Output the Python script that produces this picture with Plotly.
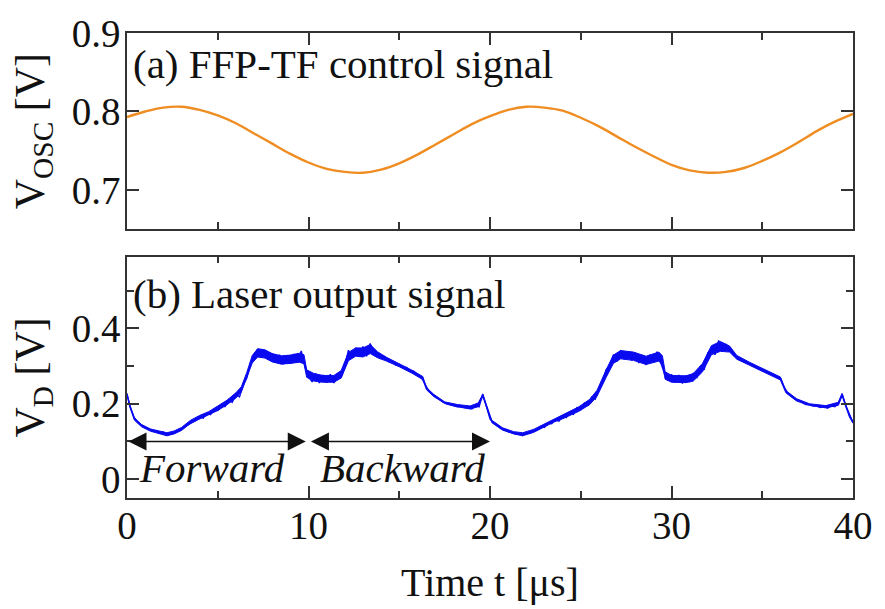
import plotly.graph_objects as go

# ---- data ----
t_osc = list(range(0, 41))
v_osc = [0.793, 0.800, 0.805, 0.806, 0.802, 0.795, 0.785, 0.772, 0.759, 0.746,
         0.735, 0.727, 0.723, 0.722, 0.726, 0.734, 0.745, 0.758, 0.771, 0.784,
         0.794, 0.802, 0.806, 0.805, 0.801, 0.792, 0.781, 0.768, 0.755, 0.743,
         0.732, 0.725, 0.722, 0.723, 0.728, 0.737, 0.748, 0.761, 0.775, 0.787,
         0.797]

# detector trace: band centre and noise half-width read at key points
t_band = [0.0, 0.15, 0.4, 0.8, 1.3, 1.8, 2.2, 2.6, 3.0, 3.5, 4.0, 4.5, 5.0, 5.5, 6.0,
          6.3, 6.6, 6.9, 7.2, 7.6, 8.0, 8.5, 9.0, 9.5, 9.75, 9.9, 10.3, 10.8, 11.4,
          11.8, 12.2, 12.6, 13.0, 13.4, 13.8, 14.3, 15.0, 15.7, 16.3, 16.5, 16.9,
          17.5, 18.2, 18.9, 19.35, 19.6, 19.8, 20.1, 20.7, 21.3, 21.8, 22.4, 22.9,
          23.5, 24.0, 24.9, 25.5, 25.9, 26.4, 26.8, 27.2, 27.9, 28.6, 29.3, 29.5,
          29.65, 30.0, 30.8, 31.2, 31.7, 32.2, 32.7, 33.2, 33.6, 34.3, 35.0, 35.6,
          36.0, 36.3, 36.9, 37.6, 38.5, 39.2, 39.4, 39.6, 39.8, 40.0]
v_band = [0.225, 0.195, 0.160, 0.142, 0.130, 0.124, 0.119, 0.124, 0.133, 0.152,
          0.164, 0.174, 0.188, 0.203, 0.222, 0.238, 0.275, 0.318, 0.335, 0.332,
          0.322, 0.316, 0.318, 0.322, 0.318, 0.280, 0.270, 0.266, 0.266, 0.278,
          0.325, 0.337, 0.336, 0.345, 0.330, 0.318, 0.302, 0.285, 0.268, 0.240,
          0.222, 0.203, 0.195, 0.190, 0.197, 0.222, 0.195, 0.153, 0.133, 0.123,
          0.119, 0.128, 0.140, 0.155, 0.165, 0.186, 0.205, 0.228, 0.280, 0.318,
          0.330, 0.326, 0.315, 0.325, 0.315, 0.275, 0.266, 0.265, 0.270, 0.295,
          0.342, 0.352, 0.345, 0.323, 0.306, 0.290, 0.277, 0.267, 0.232, 0.210,
          0.198, 0.192, 0.200, 0.224, 0.195, 0.168, 0.150]
n_band = [0.003, 0.003, 0.003, 0.003, 0.003, 0.004, 0.004, 0.004, 0.004, 0.004,
          0.005, 0.005, 0.006, 0.006, 0.007, 0.007, 0.008, 0.010, 0.011, 0.011,
          0.011, 0.011, 0.011, 0.012, 0.012, 0.010, 0.010, 0.009, 0.009, 0.010,
          0.011, 0.011, 0.012, 0.012, 0.008, 0.005, 0.004, 0.004, 0.004, 0.003,
          0.003, 0.002, 0.003, 0.004, 0.005, 0.003, 0.003, 0.003, 0.003, 0.003,
          0.004, 0.004, 0.004, 0.004, 0.005, 0.006, 0.007, 0.008, 0.010, 0.011,
          0.011, 0.011, 0.011, 0.012, 0.012, 0.010, 0.009, 0.009, 0.010, 0.011,
          0.012, 0.013, 0.008, 0.005, 0.004, 0.004, 0.004, 0.004, 0.003, 0.003,
          0.002, 0.003, 0.004, 0.003, 0.003, 0.003, 0.002]

# noise excursions of the same trace, read every 0.2 us
t_d = [i / 5 for i in range(201)]
v_d = [0.225, 0.188, 0.163, 0.150, 0.143, 0.136, 0.133, 0.128, 0.128, 0.122,
       0.125, 0.117, 0.122, 0.123, 0.128, 0.131, 0.140, 0.146, 0.152, 0.156,
       0.166, 0.162, 0.175, 0.171, 0.184, 0.182, 0.196, 0.192, 0.208, 0.204,
       0.225, 0.218, 0.250, 0.268, 0.305, 0.325, 0.345, 0.322, 0.342, 0.318,
       0.333, 0.310, 0.330, 0.305, 0.328, 0.306, 0.332, 0.309, 0.340, 0.300,
       0.272, 0.258, 0.280, 0.255, 0.276, 0.256, 0.278, 0.255, 0.275, 0.270,
       0.300, 0.342, 0.322, 0.348, 0.330, 0.352, 0.326, 0.360, 0.335, 0.332,
       0.320, 0.325, 0.312, 0.314, 0.303, 0.305, 0.296, 0.296, 0.287, 0.286,
       0.276, 0.272, 0.255, 0.236, 0.226, 0.218, 0.213, 0.205, 0.200, 0.197,
       0.196, 0.192, 0.193, 0.190, 0.190, 0.186, 0.196, 0.192, 0.226, 0.196,
       0.160, 0.148, 0.142, 0.134, 0.131, 0.126, 0.124, 0.120, 0.121, 0.116,
       0.124, 0.122, 0.130, 0.130, 0.140, 0.137, 0.149, 0.147, 0.158, 0.154,
       0.168, 0.163, 0.177, 0.172, 0.190, 0.184, 0.202, 0.196, 0.218, 0.212,
       0.240, 0.256, 0.290, 0.300, 0.330, 0.312, 0.342, 0.318, 0.338, 0.315,
       0.335, 0.308, 0.328, 0.303, 0.330, 0.310, 0.338, 0.312, 0.282, 0.262,
       0.278, 0.256, 0.276, 0.254, 0.275, 0.258, 0.280, 0.270, 0.300, 0.290,
       0.335, 0.345, 0.330, 0.368, 0.338, 0.358, 0.342, 0.330, 0.322, 0.318,
       0.312, 0.309, 0.302, 0.300, 0.292, 0.291, 0.285, 0.282, 0.276, 0.272,
       0.268, 0.245, 0.228, 0.220, 0.212, 0.208, 0.203, 0.198, 0.197, 0.194,
       0.194, 0.190, 0.193, 0.188, 0.195, 0.192, 0.203, 0.226, 0.195, 0.172,
       0.150]

arrow_y = 0.1
fwd = (0.0, 9.85)
bwd = (10.05, 20.0)
x_ticks = [0, 10, 20, 30, 40]
x_tick_labels = ["0", "10", "20", "30", "40"]

FONT = "Times New Roman, Liberation Serif, Times, serif"
ORANGE = "#ef8d22"
BLUE = "#0a0af0"
AX = "#333333"

upper = [v + n for v, n in zip(v_band, n_band)]
lower = [v - n for v, n in zip(v_band, n_band)]

fig = go.Figure()
fig.add_trace(go.Scatter(x=t_osc, y=v_osc, mode="lines", line=dict(color=ORANGE, width=2.4, shape="spline"),
                         xaxis="x2", yaxis="y2", showlegend=False))
fig.add_trace(go.Scatter(x=t_band, y=upper, mode="lines", line=dict(color=BLUE, width=1),
                         xaxis="x", yaxis="y", showlegend=False))
fig.add_trace(go.Scatter(x=t_band, y=lower, mode="lines", line=dict(color=BLUE, width=1),
                         fill="tonexty", fillcolor=BLUE, xaxis="x", yaxis="y", showlegend=False))
fig.add_trace(go.Scatter(x=t_d, y=v_d, mode="lines", line=dict(color=BLUE, width=1.4),
                         xaxis="x", yaxis="y", showlegend=False))

axis_common = dict(showline=True, linecolor=AX, linewidth=1.5, mirror="ticks", ticks="inside",
                   tickcolor=AX, tickwidth=1.5, ticklen=12, showgrid=False, zeroline=False,
                   tickfont=dict(family=FONT, size=39, color="#111"))
minor_x = dict(dtick=5, tick0=0, ticks="inside", ticklen=7, tickcolor=AX, tickwidth=1.5)
title_font = dict(family=FONT, size=42, color="#111")

fig.update_layout(
    width=885, height=609,
    margin=dict(l=127, r=22, t=28, b=105),
    plot_bgcolor="white", paper_bgcolor="white",
    xaxis=dict(domain=[0, 1], anchor="y", range=[0, 40], tickvals=x_ticks, ticktext=x_tick_labels,
               minor=minor_x,
               title=dict(text="Time t [μs]", font=dict(family=FONT, size=40, color="#111"), standoff=22),
               ticklabelstandoff=-8, **axis_common),
    yaxis=dict(domain=[0, 0.519], anchor="x", range=[-0.05, 0.59], tickvals=[0, 0.2, 0.4],
               ticktext=["0", "0.2", "0.4"],
               minor=dict(dtick=0.1, tick0=0, ticks="inside", ticklen=7, tickcolor=AX, tickwidth=1.5),
               title=dict(text="V<sub>D</sub> [V]", font=title_font, standoff=14),
               ticklabelstandoff=-3, **axis_common),
    xaxis2=dict(domain=[0, 1], anchor="y2", range=[0, 40], matches="x", tickvals=x_ticks, showticklabels=False,
                minor=minor_x, **axis_common),
    yaxis2=dict(domain=[0.578, 1], anchor="x2", range=[0.65, 0.9], tickvals=[0.7, 0.8, 0.9],
                ticktext=["0.7", "0.8", "0.9"],
                title=dict(text="V<sub>OSC</sub> [V]", font=title_font, standoff=14),
                ticklabelstandoff=-3, **axis_common),
)

ann_font = dict(family=FONT, size=41, color="#111")
fig.add_annotation(x=0.2, y=0.861, xref="x2", yref="y2", text="(a) FFP-TF control signal",
                   showarrow=False, xanchor="left", yanchor="middle", font=ann_font)
fig.add_annotation(x=0.2, y=0.49, xref="x", yref="y", text="(b) Laser output signal",
                   showarrow=False, xanchor="left", yanchor="middle", font=ann_font)
fig.add_annotation(x=4.7, y=0.03, xref="x", yref="y", text="<i>Forward</i>",
                   showarrow=False, xanchor="center", yanchor="middle", font=ann_font)
fig.add_annotation(x=15.2, y=0.03, xref="x", yref="y", text="<i>Backward</i>",
                   showarrow=False, xanchor="center", yanchor="middle", font=ann_font)

for a, b in (fwd, bwd):
    fig.add_annotation(x=b, y=arrow_y, ax=a, ay=arrow_y, xref="x", yref="y", axref="x", ayref="y",
                       text="", showarrow=True, arrowside="end+start", arrowhead=2, startarrowhead=2,
                       arrowsize=2.4, startarrowsize=2.4, arrowwidth=1.5, arrowcolor="#111")

fig.write_html("out.html")
